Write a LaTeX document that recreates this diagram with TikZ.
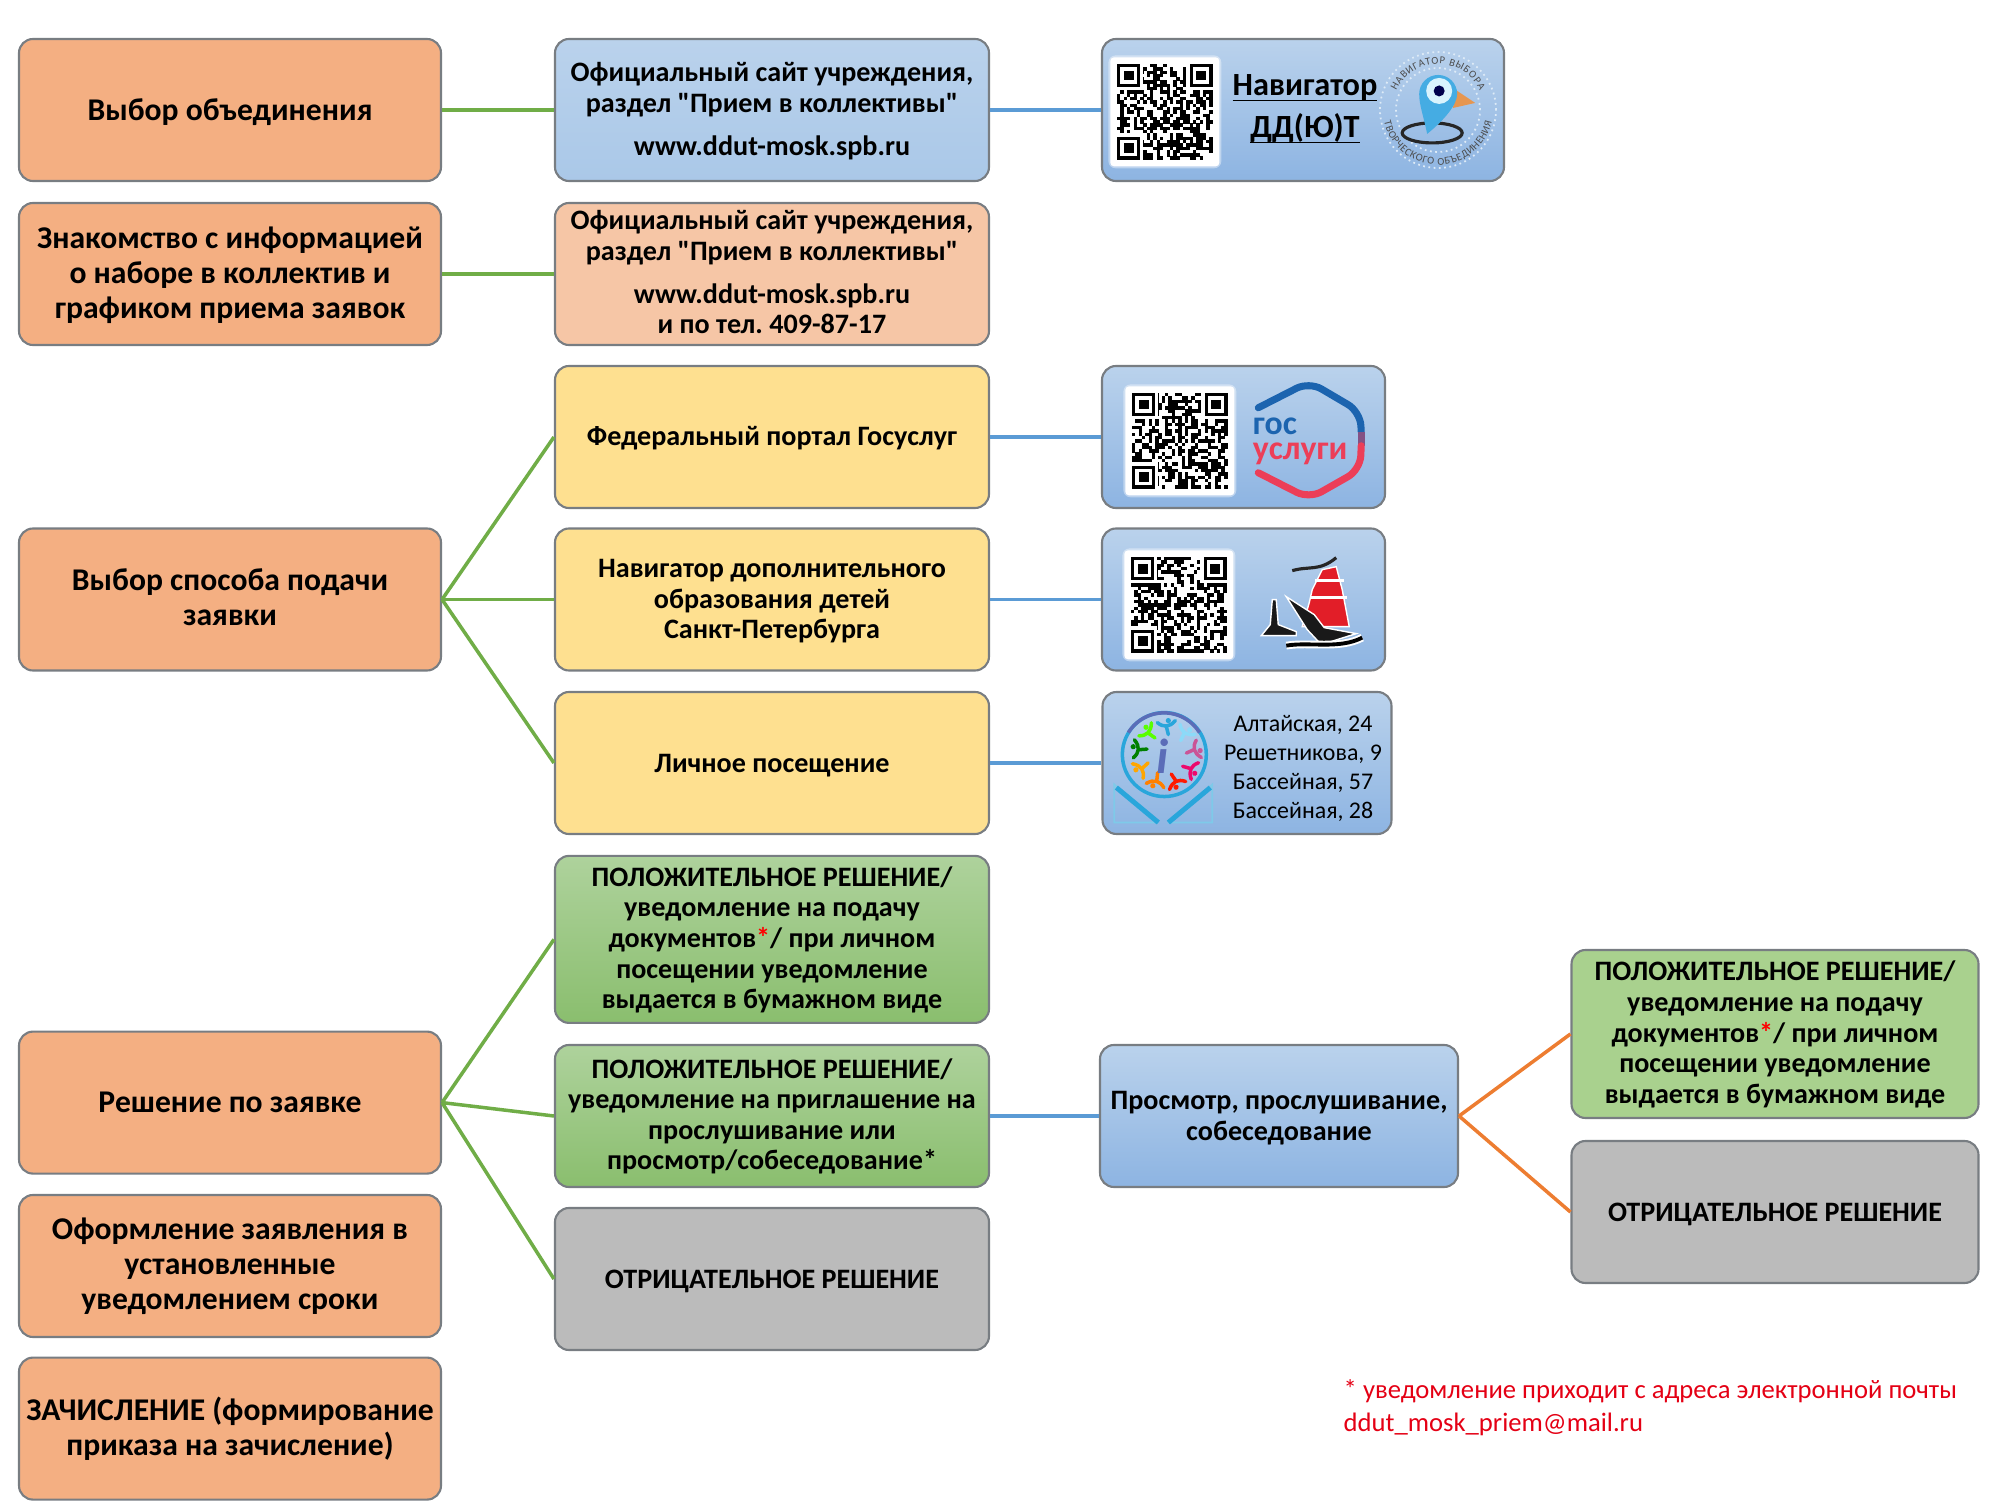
\documentclass[tikz,border=0pt]{standalone}
\usepackage{fontspec}
\setmainfont[Ligatures=TeXOff]{Carlito}
\usetikzlibrary{shapes.geometric}
\usetikzlibrary{decorations.text}
\definecolor{ordercol}{RGB}{244,175,130}
\definecolor{peachcol}{RGB}{246,198,166}
\definecolor{yellowcol}{RGB}{254,224,144}
\definecolor{greycol}{RGB}{187,187,187}
\definecolor{edgecol}{RGB}{120,125,130}
\definecolor{bluetop}{RGB}{186,210,236}
\definecolor{bluebot}{RGB}{141,180,226}
\definecolor{bluesoft}{RGB}{170,200,232}
\definecolor{greentop}{RGB}{174,210,156}
\definecolor{greenbot}{RGB}{138,190,110}
\definecolor{greenflat}{RGB}{169,209,142}
\definecolor{linegreen}{RGB}{112,173,71}
\definecolor{lineblue}{RGB}{91,155,213}
\definecolor{lineorange}{RGB}{237,125,49}
\definecolor{gosblue}{RGB}{28,100,175}
\definecolor{gosred}{RGB}{236,62,88}
\definecolor{noterred}{RGB}{228,0,20}
\definecolor{pinblue}{RGB}{69,172,227}
\definecolor{beakcol}{RGB}{230,150,80}
\definecolor{sailred}{RGB}{226,30,40}
\definecolor{ringblue}{RGB}{41,166,219}
\definecolor{ringpurple}{RGB}{91,109,184}
\tikzset{
	card/.style={draw=edgecol, line width=0.6pt, rounded corners=0.14cm, align=center, inner sep=0pt, font=\fontsize{8}{8.7}\selectfont\bfseries, minimum height=1.42cm},
	stage/.style={card, fill=ordercol, minimum width=4.22cm, font=\fontsize{9}{9.95}\selectfont\bfseries},
	midbox/.style={card, minimum width=4.34cm},
	bluebox/.style={card, top color=bluetop, bottom color=bluebot},
	greenbox/.style={midbox, top color=greentop, bottom color=greenbot},
	endbox/.style={card, minimum width=4.07cm},
	greenlink/.style={draw=linegreen, line width=1pt},
	bluelink/.style={draw=lineblue, line width=1pt},
	orangelink/.style={draw=lineorange, line width=1pt},
	goslabel/.style={inner sep=0pt, anchor=west, text height=4.8pt, text depth=0pt, font=\fontsize{9.6}{10}\selectfont\bfseries},
	px/.style={shift={(0,15)}, x=0.01cm, y=-0.01cm}
}
% qr square: left, top, seed
\newcommand{\qrsquare}[3]{%
	\begin{scope}[shift={(#1,#2)}, x=0.033cm, y=-0.033cm]
		\fill[white, opacity=0.4, rounded corners=2pt] (-2.6,-2.6) rectangle (31.6,31.6);
		\fill[white, rounded corners=1pt] (-2,-2) rectangle (31,31);
		\pgfmathsetseed{#3}
		\foreach \i in {0,...,28} \foreach \j in {0,...,28} {
			\pgfmathrandominteger{\qrbit}{0}{1}
			\ifnum\qrbit=1 \fill[black] (\i,\j) rectangle +(1.03,1.03); \fi
		}
		\foreach \fx/\fy in {0/0,22/0,0/22} {
			\fill[white] (\fx-1,\fy-1) rectangle +(9,9);
			\fill[black] (\fx,\fy) rectangle +(7,7);
			\fill[white] (\fx+1,\fy+1) rectangle +(5,5);
			\fill[black] (\fx+2,\fy+2) rectangle +(3,3);
		}
	\end{scope}}
\begin{document}
\begin{tikzpicture}
	\useasboundingbox (0,0) rectangle (20,15);
	% left column
	\node[stage, text depth=0.5pt] (s1) at (2.30,13.90) {Выбор объединения};
	\node[stage, text depth=0.5pt] (s2) at (2.30,12.26) {Знакомство с информацией\\о наборе в коллектив и\\графиком приема заявок};
	\node[stage, text depth=1.15pt] (s3) at (2.30,9.005) {Выбор способа подачи\\заявки};
	\node[stage] (s4) at (2.30,3.974) {Решение по заявке};
	\node[stage, text depth=1.2pt] (s5) at (2.30,2.34) {Оформление заявления в\\установленные\\уведомлением сроки};
	\node[stage, text depth=1.4pt] (s6) at (2.30,0.714) {ЗАЧИСЛЕНИЕ (формирование\\приказа на зачисление)};
	% middle column
	\node[midbox, top color=bluetop, bottom color=bluesoft, text depth=0.6pt] (m1) at (7.72,13.90) {Официальный сайт учреждения,\\раздел "Прием в коллективы"\\[3.5pt]www.ddut-mosk.spb.ru};
	\node[midbox, fill=peachcol, text depth=1pt] (m2) at (7.72,12.26) {Официальный сайт учреждения,\\раздел "Прием в коллективы"\\[3.5pt]www.ddut-mosk.spb.ru\\и по тел.\ 409-87-17};
	\node[midbox, fill=yellowcol, text depth=0.8pt] (m3) at (7.72,10.63) {Федеральный портал Госуслуг};
	\node[midbox, fill=yellowcol, text depth=0.25pt] (m4) at (7.72,9.005) {Навигатор дополнительного\\образования детей\\Санкт-Петербурга};
	\node[midbox, fill=yellowcol, text depth=-0.3pt] (m5) at (7.72,7.37) {Личное посещение};
	\node[greenbox, minimum height=1.67cm, text depth=1pt] (m6) at (7.72,5.606) {ПОЛОЖИТЕЛЬНОЕ РЕШЕНИЕ/\\уведомление на подачу\\документов{\color{red}*}/ при личном\\посещении уведомление\\выдается в бумажном виде};
	\node[greenbox, text depth=1.1pt] (m7) at (7.72,3.84) {ПОЛОЖИТЕЛЬНОЕ РЕШЕНИЕ/\\уведомление на приглашение на\\прослушивание или\\просмотр/собеседование*};
	\node[midbox, fill=greycol, text depth=-0.45pt] (m8) at (7.72,2.21) {ОТРИЦАТЕЛЬНОЕ РЕШЕНИЕ};
	% right column
	\node[bluebox, minimum width=4.02cm] (r1) at (13.03,13.90) {};
	\node[inner sep=0pt, align=center, font=\fontsize{9.2}{12}\selectfont\bfseries] (navtext) at (13.05,13.80) {\underline{\smash{Навигатор}}\\\underline{\smash{ДД(Ю)Т}}};
	\node[bluebox, minimum width=2.83cm] (r2) at (12.435,10.63) {};
	\node[bluebox, minimum width=2.83cm] (r3) at (12.435,9.005) {};
	\node[bluebox, minimum width=2.89cm] (r4) at (12.47,7.37) {};
	\node[align=center, inner sep=0pt, font=\fontsize{6.8}{8.25}\selectfont] (addr) at (13.03,7.32) {Алтайская, 24\\Решетникова, 9\\Бассейная, 57\\Бассейная, 28};
	\node[bluebox, minimum width=3.58cm, text depth=-0.4pt] (r5) at (12.79,3.84) {Просмотр, прослушивание,\\собеседование};
	\node[endbox, fill=greenflat, minimum height=1.68cm, text depth=1pt] (e1) at (17.75,4.66) {ПОЛОЖИТЕЛЬНОЕ РЕШЕНИЕ/\\уведомление на подачу\\документов{\color{red}*}/ при личном\\посещении уведомление\\выдается в бумажном виде};
	\node[endbox, fill=greycol, text depth=-0.45pt] (e2) at (17.75,2.88) {ОТРИЦАТЕЛЬНОЕ РЕШЕНИЕ};
	\node[anchor=west, align=left, inner sep=0pt, text=noterred, font=\fontsize{7.58}{9.3}\selectfont] (note) at (13.43,0.92) {* уведомление приходит с адреса электронной почты\\ddut\_mosk\_priem@mail.ru};
	% connectors
	\draw[greenlink] (s1.east) -- (m1.west);
	\draw[greenlink] (s2.east) -- (m2.west);
	\foreach \m in {m3,m4,m5} \draw[greenlink] (s3.east) -- (\m.west);
	\foreach \m in {m6,m7,m8} \draw[greenlink] (s4.east) -- (\m.west);
	\draw[bluelink] (m1.east) -- (r1.west);
	\draw[bluelink] (m3.east) -- (r2.west);
	\draw[bluelink] (m4.east) -- (r3.west);
	\draw[bluelink] (m5.east) -- (r4.west);
	\draw[bluelink] (m7.east) -- (r5.west);
	\draw[orangelink] (r5.east) -- (e1.west);
	\draw[orangelink] (r5.east) -- (e2.west);
	% qr squares
	\qrsquare{11.17}{14.36}{11}
	\qrsquare{11.32}{11.07}{23}
	\qrsquare{11.31}{9.43}{37}
	% navigator logo
	\draw[white!80!lineblue, line width=0.5pt, densely dotted] (14.38,13.90) circle (0.58);
	\draw[white!80!lineblue, line width=0.5pt, densely dotted] (14.38,13.90) circle (0.42);
	\path[decorate, decoration={text along path, text align={fit to path}, text={|\fontsize{3}{4}\selectfont\color{black!70}|НАВИГАТОР ВЫБОРА}}] (14.38,13.90) ++(155:0.46) arc[start angle=155, end angle=25, radius=0.46];
	\path[decorate, decoration={text along path, text align={fit to path}, text={|\fontsize{3}{4}\selectfont\color{black!70}|ТВОРЧЕСКОГО ОБЪЕДИНЕНИЯ}}] (14.38,13.90) ++(192:0.55) arc[start angle=192, end angle=348, radius=0.55];
	\begin{scope}[px]
		\draw[black!85, line width=0.9pt] (1433,133) ellipse (30 and 10);
		\fill[beakcol] (1455,89) -- (1476,103) -- (1454,108) -- cycle;
		\fill[pinblue] (1428,134) .. controls (1424,115) and (1420,105) .. (1420,94) arc[start angle=180, end angle=360, radius=19] .. controls (1458,105) and (1445,120) .. (1428,134) -- cycle;
		\fill[white!85!cyan] (1440,91) circle (13);
		\fill[black!70!blue] (1440,91) circle (5.5);
	\end{scope}
	% gosuslugi logo
	\begin{scope}[px]
		\draw[gosblue, line width=2pt, line cap=round, rounded corners=4pt] (1259,408) -- (1310,382) -- (1361,412) -- (1362,432);
		\draw[gosblue!50!gosred, line width=2pt] (1362,432) -- (1362,446);
		\draw[gosred, line width=2pt, line cap=round, rounded corners=4pt] (1362,446) -- (1361,470) -- (1310,499) -- (1259,473);
		\node[goslabel, text=gosblue] (gostop) at (1253,426) {гос};
		\node[goslabel, text=gosred] (gosbot) at (1253,451) {услуги};
	\end{scope}
	% ship logo
	\begin{scope}[px]
		\draw[white, line width=0.4pt, fill=black!90] (1273,600) -- (1277,600) -- (1279,625) -- (1297,632) -- (1297,636) -- (1262,636) -- (1271,625) -- cycle;
		\draw[white, line width=0.4pt, fill=sailred] (1323,570) -- (1337,567) -- (1343,590) -- (1350,627) -- (1303,627) -- (1310,603) -- (1313,590) -- cycle;
		\draw[white, line width=0.7pt] (1316,581) -- (1345,581) (1311,598) -- (1348,598);
		\draw[black!85, line width=0.9pt] (1293,571) .. controls (1310,566) and (1320,572) .. (1337,558);
		\draw[white, line width=0.4pt, fill=black!90] (1287,597) -- (1315,615) -- (1325,628) -- (1357,634) -- (1322,645) -- (1308,630) -- cycle;
		\draw[white, line width=2.2pt] (1287,646) .. controls (1310,642) and (1340,650) .. (1363,638);
		\draw[black, line width=1.1pt] (1287,646) .. controls (1310,642) and (1340,650) .. (1363,638);
	\end{scope}
	% info logo
	\begin{scope}[px]
		\draw[ringblue, line width=1pt] (1165,755) circle (42);
		\draw[ringpurple, line width=1pt] (1129,733) arc[start angle=212, end angle=328, radius=42];
		\foreach \a/\c in {0/ringblue, 40/green!65!yellow, 80/green!50!black, 120/orange!70!yellow, 160/orange, 200/red!80!orange, 240/magenta!70!red, 280/magenta!60!gray, 320/cyan!45} {
			\begin{scope}[shift={(1167,755)}, rotate=\a]
				\draw[\c, line width=1pt, line cap=round] (-9,-32) .. controls (-3,-27) and (3,-27) .. (9,-34);
				\draw[\c, line width=1pt, line cap=round] (0,-28) -- (2,-20);
				\fill[\c] (2,-34) circle (2.6);
			\end{scope}
		}
		\node[inner sep=0pt, text=ringpurple, font=\fontsize{14}{14}\selectfont\bfseries\itshape] (infoi) at (1163,757) {i};
		\draw[ringblue!60, line width=0.5pt] (1115,785) -- (1157,823) -- (1115,823) -- cycle;
		\draw[ringblue!60, line width=0.5pt] (1213,785) -- (1170,823) -- (1213,823) -- cycle;
		\draw[ringblue, line width=1.4pt] (1117,788) -- (1159,823);
		\draw[ringblue, line width=1.4pt] (1211,788) -- (1169,823);
	\end{scope}
\end{tikzpicture}
\end{document}
